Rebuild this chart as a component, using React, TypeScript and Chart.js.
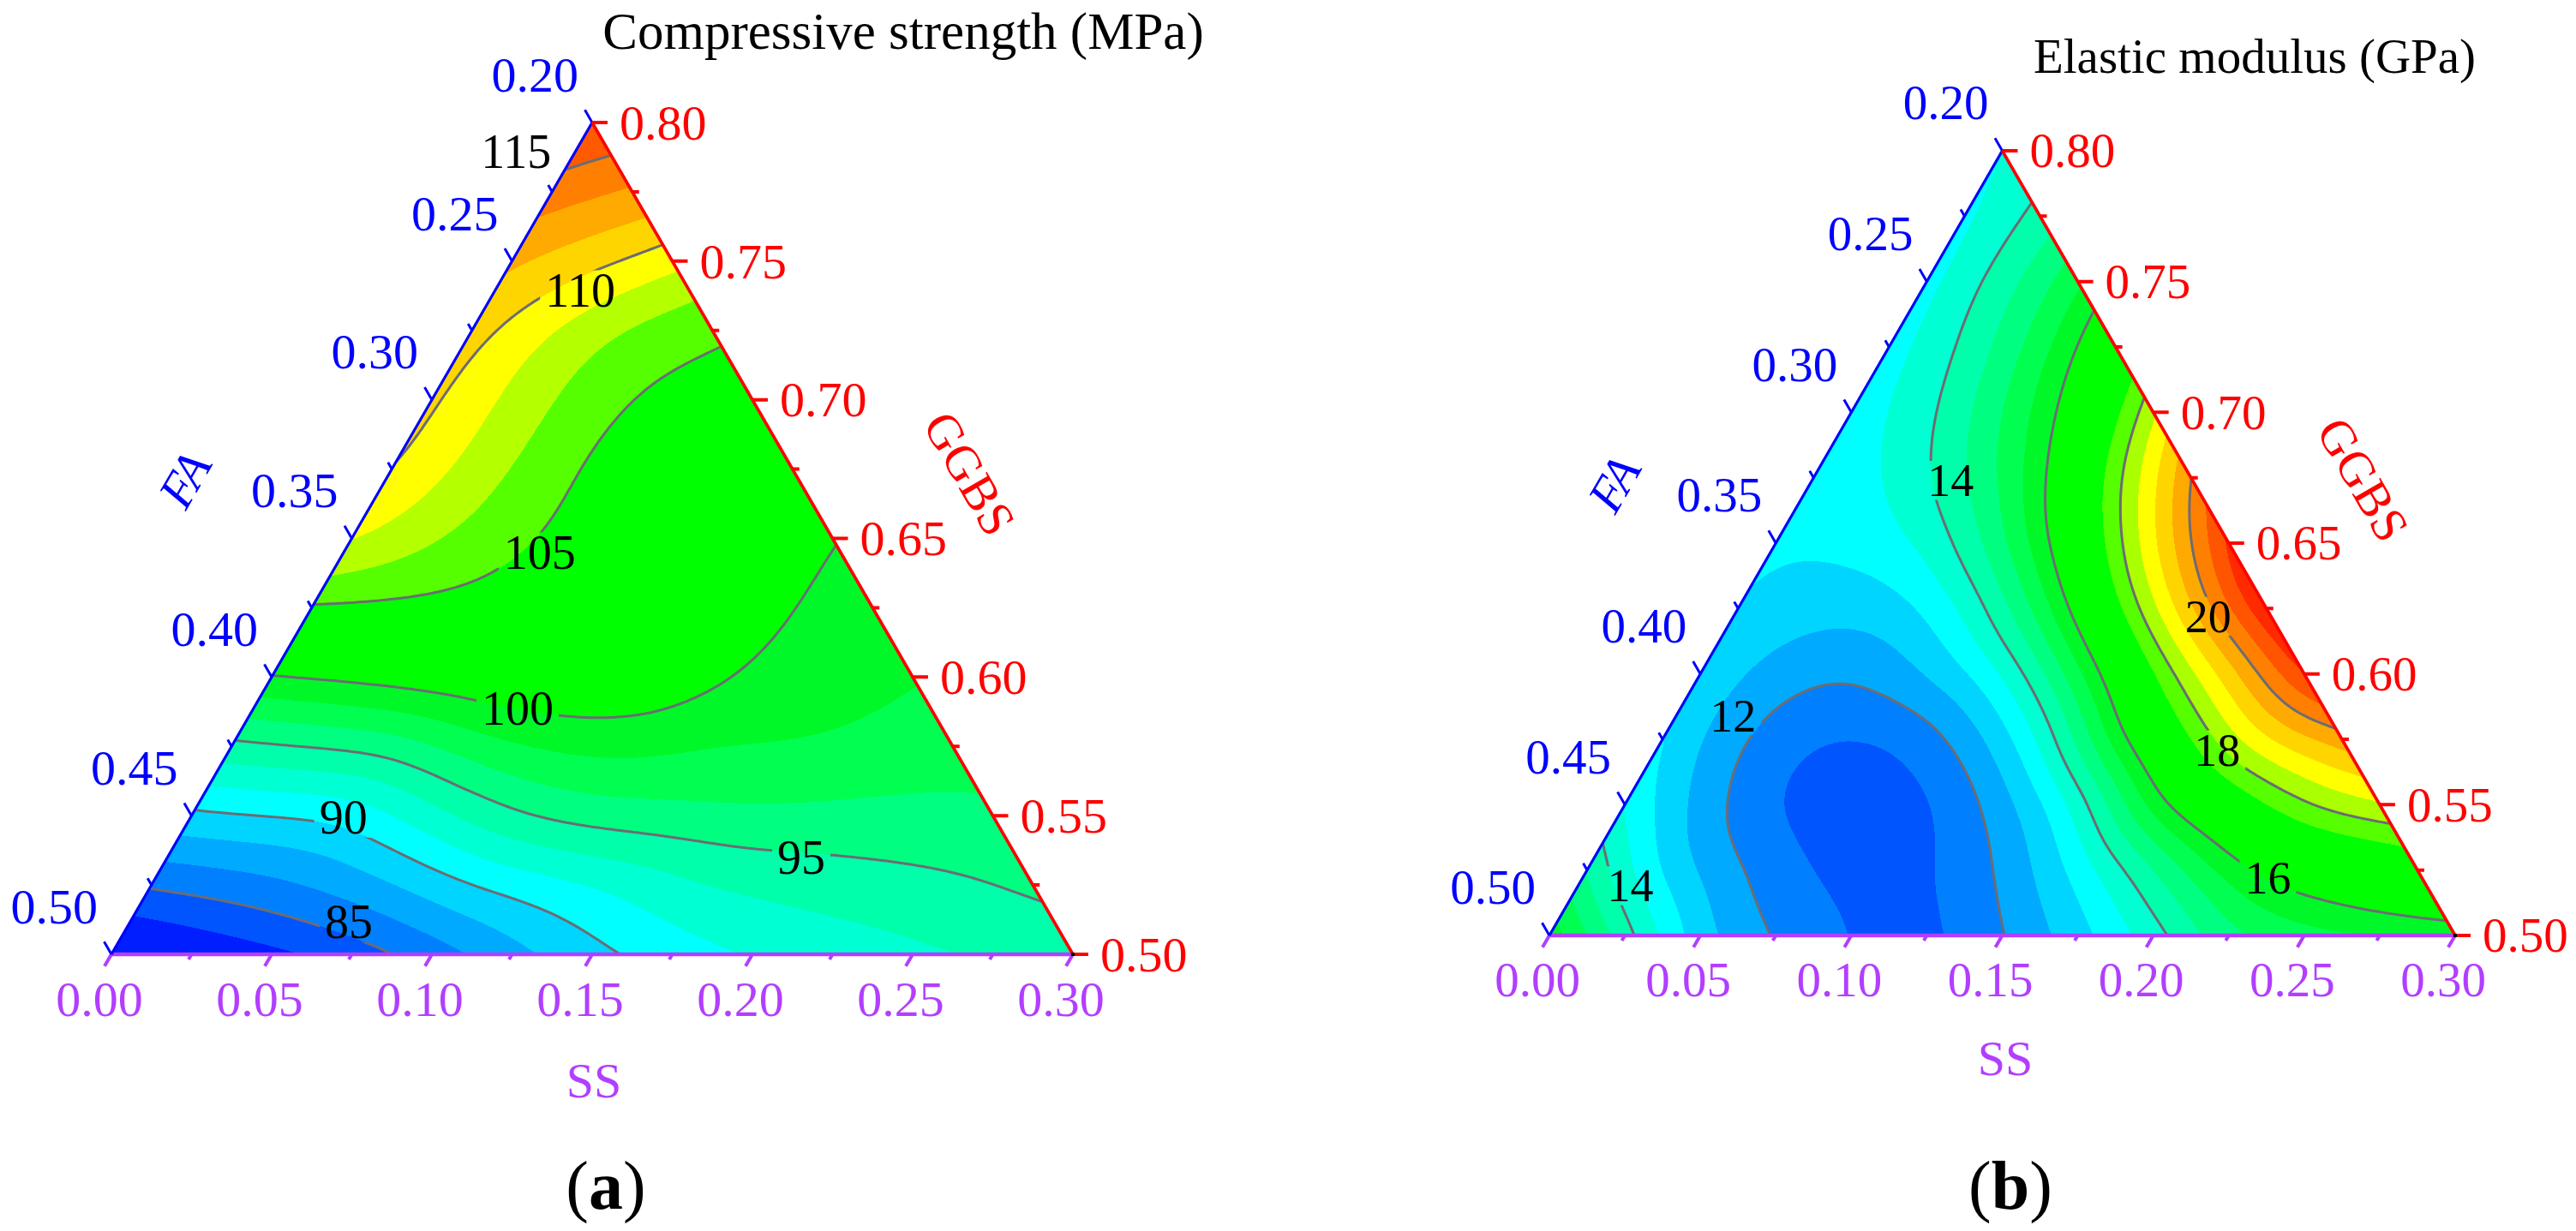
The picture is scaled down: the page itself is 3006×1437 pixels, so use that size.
import React, { useEffect, useRef } from "react";
import { Chart, registerables } from "chart.js";

Chart.register(...registerables);

const SQ = Math.sqrt(3) / 2;
const STEP = 0.025; // grid spacing in mass fraction
const DIV = 12; // 0.30 / 0.025
const FONT = '"Liberation Serif", "Times New Roman", Times, serif';

// ---------------- ternary axes ----------------
const ssTicks = [0.0, 0.05, 0.1, 0.15, 0.2, 0.25, 0.3];
const faTicks = [0.2, 0.25, 0.3, 0.35, 0.4, 0.45, 0.5];
const ggbsTicks = [0.5, 0.55, 0.6, 0.65, 0.7, 0.75, 0.8];

// ---------------- panel (a): compressive strength (MPa) ----------------
// rows: GGBS = 0.50 + 0.025*j (j = 0..12), entries: SS = 0.025*i (i = 0..12-j), FA = rest
const strengthRows: number[][] = [
  [81.0, 82.0, 82.9, 84.1, 85.85, 87.9, 89.67, 90.9, 91.86, 92.45, 93.04, 93.6, 94.0],
  [85.2, 85.8, 86.8, 88.1, 89.95, 90.9, 92.0, 93.4, 93.9, 94.3, 94.7, 95.3],
  [89.6, 89.9, 90.1, 92.7, 95.0, 96.1, 96.4, 96.5, 96.3, 96.3, 96.4],
  [94.5, 95.0, 95.6, 97.8, 98.8, 99.0, 98.4, 98.5, 98.1, 97.4],
  [100.0, 100.5, 101.3, 101.8, 102.0, 101.5, 99.7, 99.0, 98.4],
  [105.0, 105.05, 104.7, 103.5, 102.5, 101.5, 99.95, 99.2],
  [108.9, 107.0, 105.5, 104.3, 103.2, 101.8, 100.0],
  [110.1, 107.9, 105.4, 104.0, 102.8, 101.8],
  [110.2, 107.9, 105.5, 104.3, 103.6],
  [110.6, 108.0, 106.0, 105.4],
  [111.8, 110.5, 109.0],
  [114.2, 113.1],
  [116.6],
];
const strengthLevels = [83.33, 85, 86.67, 88.33, 90, 91.67, 93.33, 95, 96.67, 98.33, 100, 101.67, 103.33, 105, 106.67, 108.33, 110, 111.67, 113.33, 115];
const strengthColors = ["#001EFF", "#0055FF", "#0080FF", "#00AAFF", "#00D5FF", "#00FFFF", "#00FFD2", "#00FFAA", "#00FF80", "#00FF50", "#00F828", "#00FF00", "#00FF00", "#00FF00", "#55FF00", "#B4FF00", "#FFFF00", "#FFD500", "#FFAA00", "#FF8000", "#FF5A00"];
const strengthLines = [85, 90, 95, 100, 105, 110, 115];
const strengthLabelValues = [115, 110, 105, 100, 95, 90, 85];
const strengthLabelSS = [-0.0185, 0.0266, 0.0612, 0.0824, 0.1978, 0.0477, 0.0682];
const strengthLabelGGBS = [0.7895, 0.7394, 0.6449, 0.5887, 0.5349, 0.5494, 0.5117];

// ---------------- panel (b): elastic modulus (GPa) ----------------
const modulusRows: number[][] = [
  [15.8, 14.2, 12.5, 11.95, 11.4, 11.25, 11.95, 12.75, 13.7, 14.95, 15.3, 15.5, 15.6],
  [14.4, 12.7, 12.05, 11.4, 11.2, 11.6, 12.5, 13.6, 15.1, 16.15, 16.6, 17.0],
  [13.38, 12.22, 11.35, 11.1, 11.25, 12.1, 13.35, 15.95, 17.0, 18.05, 18.47],
  [12.98, 11.95, 11.4, 11.35, 12.02, 13.35, 15.95, 17.55, 19.05, 19.64],
  [12.85, 12.2, 11.95, 12.5, 13.3, 15.3, 17.45, 19.15, 21.1],
  [12.9, 12.65, 12.65, 13.4, 15.2, 17.4, 19.55, 21.5],
  [13.05, 13.1, 13.5, 14.9, 16.75, 19.0, 21.1],
  [13.15, 13.45, 14.45, 15.8, 17.9, 20.0],
  [13.2, 13.8, 15.0, 16.4, 18.4],
  [13.25, 14.05, 15.3, 16.8],
  [13.3, 14.3, 15.4],
  [13.4, 14.15],
  [13.6],
];
const modulusLevels = [11.5, 12, 12.5, 13, 13.5, 14, 14.5, 15, 15.5, 16, 16.5, 17, 17.5, 18, 18.5, 19, 19.5, 20, 20.5, 21];
const modulusColors = ["#0055FF", "#0080FF", "#00AAFF", "#00D5FF", "#00FFFF", "#00FFD2", "#00FFAA", "#00FF80", "#00FF50", "#00F828", "#00FF00", "#00FF00", "#00FF00", "#55FF00", "#AAFF00", "#FFFF00", "#FFD500", "#FFAA00", "#FF8000", "#FF5500", "#FF2A00"];
const modulusLines = [12, 14, 16, 18, 20];
const modulusLabelValues = [14, 20, 12, 18, 16, 14];
const modulusLabelSS = [0.0459, 0.1572, 0.0188, 0.1857, 0.227, 0.0173];
const modulusLabelGGBS = [0.674, 0.622, 0.584, 0.571, 0.522, 0.519];

// ---------------- styling / layout ----------------
const BLUE = "rgb(0,0,255)";
const RED = "rgb(255,0,0)";
const PURPLE = "rgb(178,62,255)";
const LINE_GREY = "rgb(108,108,116)";

type PanelCfg = {
  key: string;
  left: number;
  pad: { left: number; right: number; top: number; bottom: number };
  rows: number[][];
  levels: number[];
  colors: string[];
  lines: number[];
  labelValues: number[];
  labelSS: number[];
  labelGGBS: number[];
  title: string;
  titleX: number;
  titleBase: number;
  titleSize: number;
  tickSize: number;
  labelSize: number;
  axisTitleSize: number;
  faTitle: [number, number];
  ggbsTitle: [number, number];
  ssTitle: [number, number];
  tag: string;
  tagPos: [number, number];
  tagSize: number;
};

const PANEL_A: PanelCfg = {
  key: "a",
  left: 0,
  pad: { left: 130, right: 251, top: 143, bottom: 323 },
  rows: strengthRows,
  levels: strengthLevels,
  colors: strengthColors,
  lines: strengthLines,
  labelValues: strengthLabelValues,
  labelSS: strengthLabelSS,
  labelGGBS: strengthLabelGGBS,
  title: "Compressive strength (MPa)",
  titleX: 1054,
  titleBase: 57,
  titleSize: 61,
  tickSize: 58,
  labelSize: 56,
  axisTitleSize: 58,
  faTitle: [216, 560],
  ggbsTitle: [1131, 553],
  ssTitle: [693, 1262],
  tag: "a",
  tagPos: [707, 1391],
  tagSize: 80,
};

const PANEL_B: PanelCfg = {
  key: "b",
  left: 1503,
  pad: { left: 305, right: 141, top: 176, bottom: 345 },
  rows: modulusRows,
  levels: modulusLevels,
  colors: modulusColors,
  lines: modulusLines,
  labelValues: modulusLabelValues,
  labelSS: modulusLabelSS,
  labelGGBS: modulusLabelGGBS,
  title: "Elastic modulus (GPa)",
  titleX: 1128,
  titleBase: 85,
  titleSize: 57,
  tickSize: 57,
  labelSize: 54,
  axisTitleSize: 58,
  faTitle: [381, 565],
  ggbsTitle: [1254, 560],
  ssTitle: [837, 1236],
  tag: "b",
  tagPos: [843, 1391],
  tagSize: 80,
};

// ---------------- field (smooth cubic B-spline surface over the grid) ----------------
type Field = { at: (u: number, v: number) => number; colorOf: (val: number) => number[] };

function bs(p0: number, p1: number, p2: number, p3: number, t: number) {
  const t2 = t * t, t3 = t2 * t;
  const b0 = (1 - t) * (1 - t) * (1 - t) / 6;
  const b1 = (3 * t3 - 6 * t2 + 4) / 6;
  const b2 = (-3 * t3 + 3 * t2 + 3 * t + 1) / 6;
  const b3 = t3 / 6;
  return b0 * p0 + b1 * p1 + b2 * p2 + b3 * p3;
}

function hexToRgb(h: string) {
  return [parseInt(h.slice(1, 3), 16), parseInt(h.slice(3, 5), 16), parseInt(h.slice(5, 7), 16)];
}

function buildField(rows: number[][], levels: number[], colors: string[]): Field {
  const size = DIV + 3;
  const P: (number | null)[][] = [];
  for (let jj = 0; jj < size; jj++) P.push(new Array(size).fill(null));
  rows.forEach((row, j) => row.forEach((val, i) => { P[j + 1][i + 1] = val; }));
  const dirs = [[1, 0], [-1, 0], [0, 1], [0, -1], [1, -1], [-1, 1]];
  for (let pass = 0; pass < 100; pass++) {
    const upd: [number, number, number][] = [];
    let missing = 0;
    for (let jj = 0; jj < size; jj++) {
      for (let ii = 0; ii < size; ii++) {
        if (P[jj][ii] !== null) continue;
        missing++;
        let sum = 0, cnt = 0;
        for (const [di, dj] of dirs) {
          const i1 = ii + di, j1 = jj + dj, i2 = ii + 2 * di, j2 = jj + 2 * dj;
          if (i2 < 0 || j2 < 0 || i2 >= size || j2 >= size) continue;
          const a = P[j1][i1], b = P[j2][i2];
          if (a === null || b === null) continue;
          sum += 2 * a - b;
          cnt++;
        }
        if (cnt) upd.push([jj, ii, sum / cnt]);
      }
    }
    if (!missing) break;
    upd.forEach(([jj, ii, v]) => { P[jj][ii] = v; });
  }
  const G = P as number[][];
  const rgb = colors.map(hexToRgb);
  const at = (u: number, v: number) => {
    u = Math.max(0, Math.min(DIV, u));
    v = Math.max(0, Math.min(DIV, v));
    const i0 = Math.min(Math.floor(u), DIV - 1);
    const j0 = Math.min(Math.floor(v), DIV - 1);
    const tu = u - i0, tv = v - j0;
    const c = [0, 0, 0, 0];
    for (let k = 0; k < 4; k++) {
      const r = G[j0 + k];
      c[k] = bs(r[i0], r[i0 + 1], r[i0 + 2], r[i0 + 3], tu);
    }
    return bs(c[0], c[1], c[2], c[3], tv);
  };
  const colorOf = (val: number) => {
    let k = 0;
    while (k < levels.length && val >= levels[k]) k++;
    return rgb[k];
  };
  return { at, colorOf };
}

// ---------------- drawing helpers ----------------
function ternPx(chart: any) {
  const xs = chart.scales.x, ys = chart.scales.y;
  // s = SS, g = GGBS - 0.5
  return (s: number, g: number): [number, number] => [xs.getPixelForValue(s + g / 2), ys.getPixelForValue(g * SQ)];
}

function drawField(chart: any, field: Field) {
  const ctx = chart.ctx as CanvasRenderingContext2D;
  const xs = chart.scales.x, ys = chart.scales.y;
  const a = chart.chartArea;
  const x0 = Math.floor(a.left) - 3, y0 = Math.floor(a.top) - 3;
  const w = Math.ceil(a.right) + 3 - x0, h = Math.ceil(a.bottom) + 3 - y0;
  const off = document.createElement("canvas");
  off.width = w;
  off.height = h;
  const octx = off.getContext("2d")!;
  const img = octx.createImageData(w, h);
  const d = img.data;
  const xv = new Float64Array(w);
  for (let c = 0; c < w; c++) xv[c] = xs.getValueForPixel(x0 + c + 0.5);
  const tol = (1.2 * 0.3) / (a.right - a.left);
  for (let r = 0; r < h; r++) {
    const yv = ys.getValueForPixel(y0 + r + 0.5);
    const g = yv / SQ;
    if (g < -tol || g > 0.3 + tol) continue;
    for (let c = 0; c < w; c++) {
      const s = xv[c] - g / 2;
      if (s < -tol || s + g > 0.3 + tol) continue;
      const col = field.colorOf(field.at(s / STEP, g / STEP));
      const k = (r * w + c) * 4;
      d[k] = col[0];
      d[k + 1] = col[1];
      d[k + 2] = col[2];
      d[k + 3] = 255;
    }
  }
  octx.putImageData(img, 0, 0);
  ctx.drawImage(off, x0, y0);
}

function labelFont(size: number) {
  return `${size}px ${FONT}`;
}

function drawContours(chart: any, cfg: PanelCfg, field: Field) {
  const ctx = chart.ctx as CanvasRenderingContext2D;
  const P = ternPx(chart);
  const S = 10;
  const N = DIV * S;
  const F: number[][] = [];
  const X: [number, number][][] = [];
  for (let b = 0; b <= N; b++) {
    const row: number[] = [];
    const prow: [number, number][] = [];
    for (let a = 0; a <= N - b; a++) {
      row.push(field.at(a / S, b / S));
      prow.push(P((a / S) * STEP, (b / S) * STEP));
    }
    F.push(row);
    X.push(prow);
  }
  const BL = P(0, 0), BR = P(0.3, 0), TOP = P(0, 0.3);
  ctx.save();
  ctx.beginPath();
  ctx.moveTo(BL[0], BL[1]);
  ctx.lineTo(BR[0], BR[1]);
  ctx.lineTo(TOP[0], TOP[1]);
  ctx.closePath();
  ctx.font = labelFont(cfg.labelSize);
  cfg.labelValues.forEach((v, k) => {
    const [cx, cy] = P(cfg.labelSS[k], cfg.labelGGBS[k] - 0.5);
    const w = ctx.measureText(String(v)).width;
    ctx.rect(cx - w / 2 - 6, cy - cfg.labelSize * 0.42, w + 12, cfg.labelSize * 0.84);
  });
  ctx.clip("evenodd");
  ctx.strokeStyle = LINE_GREY;
  ctx.lineWidth = 3;
  ctx.lineCap = "round";
  ctx.lineJoin = "round";
  const tri = (p: [number, number][], v: number[], L: number) => {
    const out: [number, number][] = [];
    const edges = [[0, 1], [1, 2], [2, 0]];
    for (const [i, j] of edges) {
      const a = v[i] - L, b = v[j] - L;
      if (a < 0 !== b < 0) {
        const t = a / (a - b);
        out.push([p[i][0] + t * (p[j][0] - p[i][0]), p[i][1] + t * (p[j][1] - p[i][1])]);
      }
    }
    if (out.length === 2) {
      ctx.moveTo(out[0][0], out[0][1]);
      ctx.lineTo(out[1][0], out[1][1]);
    }
  };
  for (const L of cfg.lines) {
    ctx.beginPath();
    for (let b = 0; b < N; b++) {
      for (let a = 0; a + b < N; a++) {
        tri([X[b][a], X[b][a + 1], X[b + 1][a]], [F[b][a], F[b][a + 1], F[b + 1][a]], L);
        if (a + b + 2 <= N) {
          tri([X[b][a + 1], X[b + 1][a + 1], X[b + 1][a]], [F[b][a + 1], F[b + 1][a + 1], F[b + 1][a]], L);
        }
      }
    }
    ctx.stroke();
  }
  ctx.restore();

  // contour labels
  ctx.save();
  ctx.fillStyle = "#000";
  ctx.font = labelFont(cfg.labelSize);
  ctx.textAlign = "center";
  ctx.textBaseline = "alphabetic";
  cfg.labelValues.forEach((v, k) => {
    const [cx, cy] = P(cfg.labelSS[k], cfg.labelGGBS[k] - 0.5);
    ctx.fillText(String(v), cx, cy + cfg.labelSize * 0.34);
  });
  ctx.restore();
}

function seg(ctx: CanvasRenderingContext2D, p: [number, number], dx: number, dy: number, len: number) {
  ctx.moveTo(p[0], p[1]);
  ctx.lineTo(p[0] + dx * len, p[1] + dy * len);
}

function drawAxes(chart: any, cfg: PanelCfg) {
  const ctx = chart.ctx as CanvasRenderingContext2D;
  const P = ternPx(chart);
  const BL = P(0, 0), BR = P(0.3, 0), TOP = P(0, 0.3);
  ctx.save();
  ctx.lineCap = "butt";

  // SS (bottom)
  ctx.strokeStyle = PURPLE;
  ctx.lineWidth = 4.5;
  ctx.beginPath();
  ctx.moveTo(BL[0], BL[1]);
  ctx.lineTo(BR[0], BR[1]);
  ctx.stroke();
  ctx.lineWidth = 4;
  ctx.beginPath();
  for (let k = 0; k <= DIV; k++) {
    const s = k * STEP;
    seg(ctx, P(s, 0), -0.5, SQ, k % 2 === 0 ? 16 : 7);
  }
  ctx.stroke();

  // FA (left)
  ctx.strokeStyle = BLUE;
  ctx.lineWidth = 3.2;
  ctx.beginPath();
  ctx.moveTo(BL[0], BL[1]);
  ctx.lineTo(TOP[0], TOP[1]);
  ctx.stroke();
  ctx.lineWidth = 3;
  ctx.beginPath();
  for (let k = 0; k <= DIV; k++) {
    const fa = 0.2 + k * STEP;
    seg(ctx, P(0, 0.5 - fa), -0.5, -SQ, k % 2 === 0 ? 17 : 9);
  }
  ctx.stroke();

  // GGBS (right)
  ctx.strokeStyle = RED;
  ctx.lineWidth = 3.6;
  ctx.beginPath();
  ctx.moveTo(BR[0], BR[1]);
  ctx.lineTo(TOP[0], TOP[1]);
  ctx.stroke();
  ctx.lineWidth = 4;
  ctx.beginPath();
  for (let k = 0; k <= DIV; k++) {
    const g = k * STEP;
    seg(ctx, P(0.3 - g, g), 1, 0, k % 2 === 0 ? 18 : 8);
  }
  ctx.stroke();

  ctx.fillStyle = "#000";
  ctx.fillRect(BR[0] - 2, BR[1] - 2, 4, 4);
  ctx.restore();

  // tick labels
  ctx.save();
  ctx.font = labelFont(cfg.tickSize);
  ctx.textBaseline = "alphabetic";
  const dy = cfg.tickSize * 0.34;
  ctx.fillStyle = BLUE;
  ctx.textAlign = "right";
  faTicks.forEach((fa) => {
    const p = P(0, 0.5 - fa);
    ctx.fillText(fa.toFixed(2), p[0] - 16, p[1] - 56 + dy);
  });
  ctx.fillStyle = RED;
  ctx.textAlign = "left";
  ggbsTicks.forEach((gg) => {
    const g = gg - 0.5;
    const p = P(0.3 - g, g);
    ctx.fillText(gg.toFixed(2), p[0] + 32, p[1] + dy);
  });
  ctx.fillStyle = PURPLE;
  ctx.textAlign = "center";
  ssTicks.forEach((s) => {
    const p = P(s, 0);
    ctx.fillText(s.toFixed(2), p[0] - 14, p[1] + 52 + dy);
  });
  ctx.restore();
}

function drawTexts(chart: any, cfg: PanelCfg) {
  const ctx = chart.ctx as CanvasRenderingContext2D;
  ctx.save();
  // title
  ctx.fillStyle = "#000";
  ctx.font = labelFont(cfg.titleSize);
  ctx.textAlign = "center";
  ctx.textBaseline = "alphabetic";
  ctx.fillText(cfg.title, cfg.titleX, cfg.titleBase);

  const s = cfg.axisTitleSize;
  // FA (italic, rotated along left edge)
  ctx.save();
  ctx.translate(cfg.faTitle[0], cfg.faTitle[1]);
  ctx.rotate(-Math.PI / 3);
  ctx.fillStyle = BLUE;
  ctx.font = `italic ${s}px ${FONT}`;
  ctx.fillText("FA", 0, s * 0.33);
  ctx.restore();
  // GGBS
  ctx.save();
  ctx.translate(cfg.ggbsTitle[0], cfg.ggbsTitle[1]);
  ctx.rotate(Math.PI / 3);
  ctx.fillStyle = RED;
  ctx.font = `${s}px ${FONT}`;
  ctx.fillText("GGBS", 0, s * 0.33);
  ctx.restore();
  // SS
  ctx.fillStyle = PURPLE;
  ctx.font = `${s}px ${FONT}`;
  ctx.fillText("SS", cfg.ssTitle[0], cfg.ssTitle[1] + s * 0.33);

  // panel tag "(a)" with bold letter
  const t = cfg.tagSize;
  ctx.fillStyle = "#000";
  ctx.textAlign = "left";
  const nf = `${t}px ${FONT}`;
  const bf = `bold ${t}px ${FONT}`;
  ctx.font = nf;
  const w1 = ctx.measureText("(").width;
  const w3 = ctx.measureText(")").width;
  ctx.font = bf;
  const w2 = ctx.measureText(cfg.tag).width;
  const total = w1 + w2 + w3;
  let x = cfg.tagPos[0] - total / 2;
  const base = cfg.tagPos[1] + t * 0.25;
  ctx.font = nf;
  ctx.fillText("(", x, base);
  x += w1;
  ctx.font = bf;
  ctx.fillText(cfg.tag, x, base);
  x += w2;
  ctx.font = nf;
  ctx.fillText(")", x, base);
  ctx.restore();
}

function TernaryPanel({ cfg }: { cfg: PanelCfg }) {
  const ref = useRef<HTMLCanvasElement>(null);
  useEffect(() => {
    if (!ref.current) return;
    const field = buildField(cfg.rows, cfg.levels, cfg.colors);
    const points: { x: number; y: number; v: number }[] = [];
    cfg.rows.forEach((row, j) =>
      row.forEach((v, i) => {
        const g = j * STEP, s = i * STEP;
        points.push({ x: s + g / 2, y: g * SQ, v });
      })
    );
    const plugin = {
      id: "ternary_" + cfg.key,
      beforeDatasetsDraw(chart: any) {
        drawField(chart, field);
      },
      afterDatasetsDraw(chart: any) {
        drawContours(chart, cfg, field);
        drawAxes(chart, cfg);
        drawTexts(chart, cfg);
      },
    };
    const chart = new Chart(ref.current, {
      type: "scatter",
      data: { datasets: [{ data: points, pointRadius: 0, pointHoverRadius: 0, showLine: false }] },
      options: {
        responsive: false,
        maintainAspectRatio: false,
        animation: false,
        devicePixelRatio: 1,
        events: [],
        layout: { padding: cfg.pad },
        scales: {
          x: { type: "linear", min: 0, max: 0.3, display: false },
          y: { type: "linear", min: 0, max: 0.3 * SQ, display: false },
        },
        plugins: { legend: { display: false }, tooltip: { enabled: false }, title: { display: false } },
      },
      plugins: [plugin],
    } as any);
    return () => chart.destroy();
  }, [cfg]);
  return (
    <canvas
      ref={ref}
      width={1503}
      height={1437}
      style={{ position: "absolute", left: cfg.left, top: 0, width: 1503, height: 1437 }}
    />
  );
}

export default function App() {
  return (
    <div style={{ position: "absolute", left: 0, top: 0, width: 3006, height: 1437, background: "#fff", overflow: "hidden" }}>
      <TernaryPanel cfg={PANEL_A} />
      <TernaryPanel cfg={PANEL_B} />
    </div>
  );
}
